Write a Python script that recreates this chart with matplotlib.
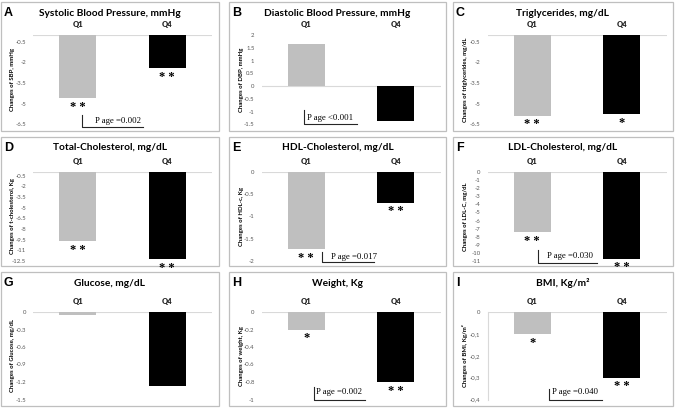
import matplotlib
matplotlib.use("Agg")
import matplotlib.pyplot as plt
from matplotlib.patches import Rectangle
from matplotlib.lines import Line2D

# figure size in pixels
W, H = 676, 409

groups = ["Q1", "Q4"]
letters = ["A", "B", "C", "D", "E", "F", "G", "H", "I"]
titles = ["Systolic Blood Pressure, mmHg", "Diastolic Blood Pressure, mmHg",
          "Triglycerides, mg/dL", "Total-Cholesterol, mg/dL",
          "HDL-Cholesterol, mg/dL", "LDL-Cholesterol, mg/dL",
          "Glucose, mg/dL", "Weight, Kg", "BMI, Kg/m²"]
ylabels = ["Changes of SBP, mmHg", "Changes of DBP, mmHg",
           "Changes of triglycerides, mg/dL", "Changes of t-cholesterol, Kg",
           "Changes of HDL-c, Kg", "Changes of LDL-C, mg/dL",
           "Changes of Glucose, mg/dL", "Changes of weight, Kg",
           "Changes of BMI, Kg/m²"]

# changes per quartile (Q1, Q4)
sbp = [-4.6, -2.4]
dbp = [1.65, -1.36]
tg = [-5.87, -5.77]
tc = [-9.74, -12.2]
hdl = [-1.74, -0.69]
ldl = [-7.47, -10.7]
glu = [-0.05, -1.26]
weight = [-0.2, -0.8]
bmi = [-0.1, -0.3]
values = [sbp, dbp, tg, tc, hdl, ldl, glu, weight, bmi]

stars = [["**", "**"], ["", ""], ["**", "*"],
         ["**", "**"], ["**", "**"], ["**", "**"],
         ["", ""], ["*", "**"], ["*", "**"]]
p_texts = ["P age =0.002", "P age <0.001", None,
           None, "P age =0.017", "P age =0.030",
           None, "P age =0.002", "P age =0.040"]

yticks = [[-0.5, -2, -3.5, -5, -6.5],
          [2, 1.5, 1, 0.5, 0, -0.5, -1, -1.5],
          [-0.5, -2, -3.5, -5, -6.5],
          [-0.5, -2, -3.5, -5, -6.5, -8, -9.5, -11, -12.5],
          [0, -0.5, -1, -1.5, -2],
          [0, -1, -2, -3, -4, -5, -6, -7, -8, -9, -10, -11],
          [0, -0.3, -0.6, -0.9, -1.2, -1.5],
          [0, -0.2, -0.4, -0.6, -0.8, -1],
          [0, -0.1, -0.2, -0.3, -0.4]]
ylims = [(-6.5, 0), (-1.5, 2), (-6.5, 0), (-12.5, 0), (-2, 0),
         (-11, 0), (-1.5, 0), (-1, 0), (-0.4, 0)]

# layout (pixels)
panel_x = [1, 229, 453]
panel_w = [218, 217, 220]
panel_y = [2, 137, 272]
panel_h = [129, 129, 134]
ax_x = [33, 261.5, 487.5]
ax_w = 179
ax_top = [35, 172, 312]
ax_bot = [124.3, 261, 399.5]

# bracket: vertical x, y1, y2, horizontal end x, text x, text y
brackets = {0: (82, 115, 127, 143, 95, 121),
            1: (304, 110, 124, 357, 307, 117.5),
            4: (322, 251.7, 262, 374, 331, 257),
            5: (537.7, 250, 263.3, 596.7, 547, 256),
            7: (313.7, 387, 399.7, 365.3, 316, 392.5),
            8: (549.3, 388.7, 400.3, 601.7, 552, 392.5)}

SANS = "Lato"
fig = plt.figure(figsize=(W / 100, H / 100), dpi=100)


def fx(x):
    return x / W


def fy(y):
    return 1 - y / H


for i in range(9):
    r, c = divmod(i, 3)
    px, py, pw, ph = panel_x[c], panel_y[r], panel_w[c], panel_h[r]

    # grey frame around each panel
    fig.patches.append(Rectangle((fx(px), fy(py + ph)), pw / W, ph / H,
                                 transform=fig.transFigure, facecolor="none",
                                 edgecolor="#bfbfbf", lw=0.9, zorder=-1))

    ax = fig.add_axes([fx(ax_x[c]), fy(ax_bot[r]), ax_w / W,
                       (ax_bot[r] - ax_top[r]) / H])
    ax.patch.set_alpha(0)
    ax.bar(groups, values[i], width=0.41, color=["#bfbfbf", "black"], zorder=2)
    ax.axhline(0, color="#d9d9d9", lw=0.8, zorder=1)
    ax.set_xlim(-0.5, 1.5)
    ax.set_ylim(*ylims[i])

    for s in ax.spines.values():
        s.set_visible(False)
    if i == 8:
        ax.spines["left"].set_visible(True)
        ax.spines["left"].set_color("#d9d9d9")
        ax.spines["left"].set_linewidth(0.8)

    if i == 8:
        labs = [("%g" % t).replace(".", ",") for t in yticks[i]]
    else:
        labs = ["%g" % t for t in yticks[i]]
    ax.set_yticks(yticks[i], labs, fontsize=4.3, color="#595959", family=SANS)
    ax.tick_params(axis="y", length=0, pad=5)
    ax.xaxis.tick_top()
    ax.set_xticks([0, 1], groups, fontsize=5.5, fontweight="heavy",
                  family=SANS, color="#262626")
    ax.tick_params(axis="x", length=0, pad=5)

    # significance stars under the bars
    for j, v in enumerate(values[i]):
        if stars[i][j]:
            ax.annotate(" ".join(stars[i][j]), (j, v), xytext=(0, -2),
                        textcoords="offset points", ha="center", va="top",
                        fontsize=9, fontweight="bold",
                        family="Liberation Serif", annotation_clip=False)

    # panel letter, title and y label
    fig.text(fx(px + 3), fy(py + 11), letters[i], fontsize=9,
             fontweight="bold", family="Liberation Sans", va="center")
    fig.text(fx(px + pw / 2), fy(py + 11), titles[i], fontsize=7.3,
             fontweight="bold", family=SANS, ha="center", va="center")
    fig.text(fx(px + 12), fy((ax_top[r] + ax_bot[r]) / 2), ylabels[i],
             fontsize=4.3, fontweight="bold", family=SANS, rotation=90,
             ha="center", va="center")

    if p_texts[i]:
        vx, y1, y2, hx, tx, ty = brackets[i]
        fig.add_artist(Line2D([fx(vx), fx(vx), fx(hx)],
                              [fy(y1), fy(y2), fy(y2)],
                              transform=fig.transFigure, color="#262626", lw=0.8))
        fig.text(fx(tx), fy(ty), p_texts[i], fontsize=6.3,
                 family="Liberation Serif", va="center")

fig.savefig("out.png", dpi=100)
